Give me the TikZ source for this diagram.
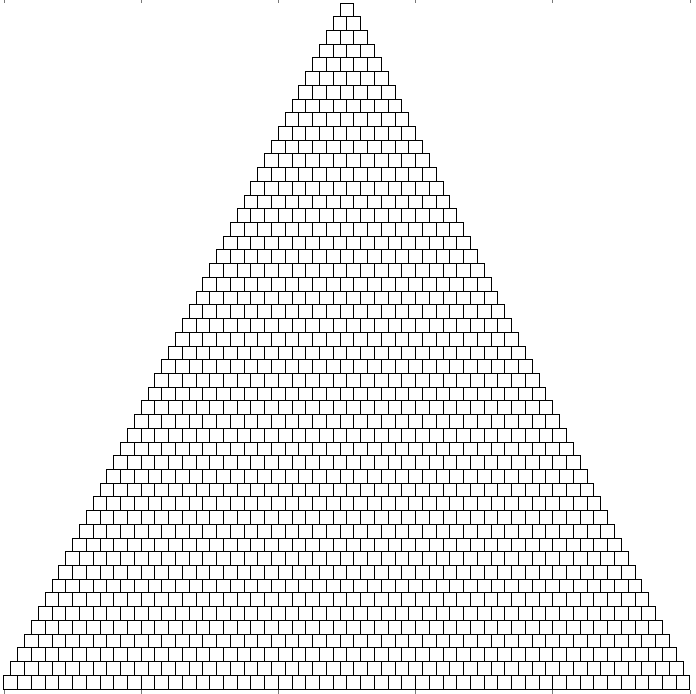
\documentclass[tikz,border=0pt]{standalone}
\usepackage{tikz}
\definecolor{tickGray}{RGB}{120,120,120}

\begin{document}
\begin{tikzpicture}[x=0.5cm, y=0.5cm,
    brick/.style={draw=black, line width=1pt},
    axtick/.style={draw=tickGray, line width=0.6pt}]
  \useasboundingbox (-0.29,-0.36) rectangle (50.44,50.22);
  % stacked bricks, 50 on the bottom row, one less per row above
  \foreach \row in {0,...,49}{
    \pgfmathtruncatemacro{\last}{49-\row}
    \foreach \col in {0,...,\last}
      \draw[brick] ({\col+\row/2},\row) rectangle ++(1,1);
  }
  % axis ticks (top and bottom)
  \foreach \t in {0,10,...,50}{
    \draw[axtick] (\t,50.22) -- (\t,49.98);
    \draw[axtick] (\t,-0.36) -- (\t,-0.08);
  }
\end{tikzpicture}
\end{document}
